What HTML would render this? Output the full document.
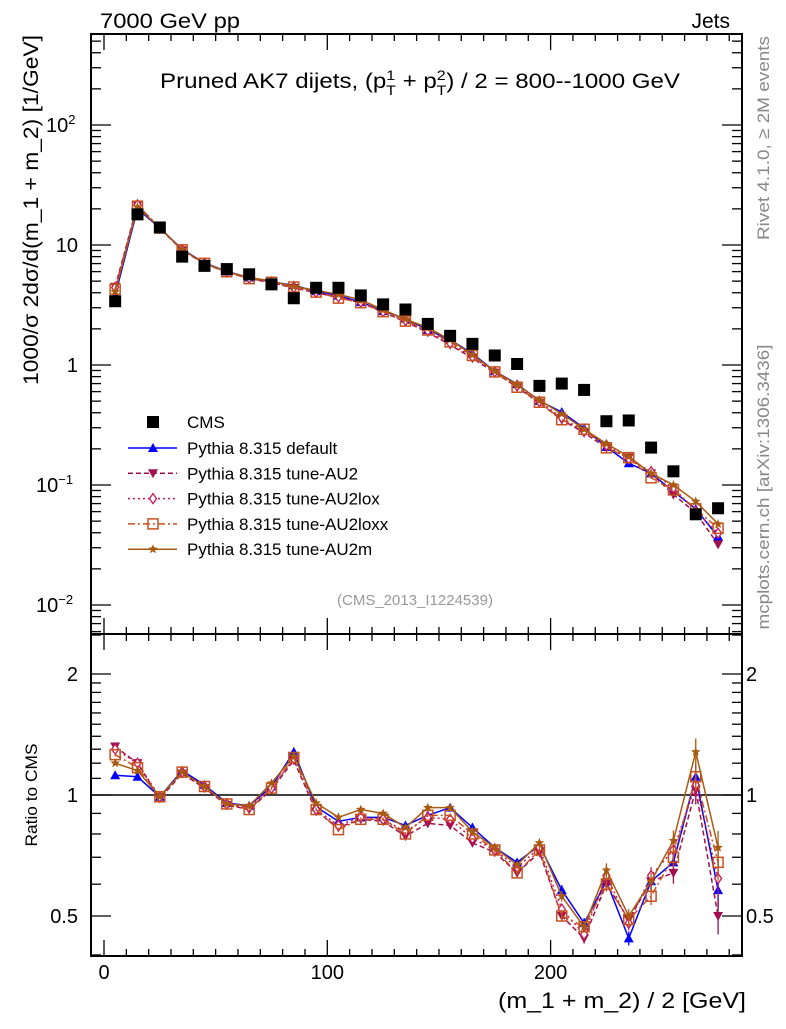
<!DOCTYPE html>
<html><head><meta charset="utf-8"><style>
body{margin:0;background:#fff;width:786px;height:1024px;overflow:hidden}
svg{font-family:"Liberation Sans",sans-serif}
</style></head><body>
<svg id="c" width="786" height="1024" viewBox="0 0 786 1024">
<g id="g"></g>
</svg>
<script>
const binCenters=[5,15,25,35,45,55,65,75,85,95,105,115,125,135,145,155,165,175,185,195,205,215,225,235,245,255,265,275];
const cmsValues=[3.4,18,14,8,6.7,6.3,5.7,4.7,3.6,4.4,4.4,3.8,3.2,2.9,2.2,1.75,1.5,1.2,1.02,0.67,0.70,0.62,0.34,0.345,0.205,0.13,0.057,0.064];
const ratioDefault=[1.12,1.11,0.99,1.15,1.06,0.955,0.94,1.05,1.28,0.935,0.86,0.88,0.88,0.84,0.89,0.93,0.83,0.74,0.68,0.75,0.58,0.48,0.61,0.44,0.61,0.68,1.11,0.58];
const ratioAU2=[1.32,1.2,0.98,1.13,1.04,0.945,0.92,1.03,1.22,0.91,0.83,0.87,0.86,0.79,0.85,0.84,0.76,0.72,0.64,0.72,0.5,0.44,0.6,0.49,0.61,0.64,1.03,0.5];
const ratioAU2lox=[1.3,1.2,0.99,1.14,1.05,0.95,0.93,1.04,1.23,0.92,0.84,0.88,0.87,0.81,0.88,0.87,0.78,0.73,0.66,0.74,0.52,0.45,0.63,0.48,0.63,0.73,1.06,0.62];
const ratioAU2loxx=[1.26,1.17,0.99,1.14,1.05,0.95,0.92,1.04,1.24,0.92,0.82,0.87,0.87,0.8,0.89,0.89,0.8,0.73,0.64,0.73,0.5,0.47,0.6,0.49,0.56,0.7,1.11,0.68];
const ratioAU2m=[1.2,1.15,0.99,1.14,1.05,0.95,0.94,1.07,1.25,0.955,0.88,0.92,0.9,0.83,0.93,0.93,0.81,0.74,0.67,0.76,0.56,0.47,0.65,0.5,0.61,0.77,1.28,0.74];
const relErr=[0.01,0.01,0.01,0.01,0.01,0.01,0.01,0.01,0.01,0.01,0.01,0.01,0.01,0.01,0.01,0.01,0.01,0.015,0.015,0.02,0.03,0.03,0.04,0.04,0.05,0.06,0.08,0.1];
const xTicks=[0,100,200];
const NS="http://www.w3.org/2000/svg";
const g=document.getElementById('g');
const L=91,R=742,T=34,MB=634,RB=956;
const X=v=>104+(v)*2.233;
const Ym=v=>365-120*Math.log10(v);
const Yr=v=>795-121*Math.log2(v);
function el(t,a,p){const e=document.createElementNS(NS,t);for(const k in a)e.setAttribute(k,a[k]);(p||g).appendChild(e);return e;}
function txt(s,x,y,sz,anc,fill,extra){const e=el('text',Object.assign({x:x,y:y,'font-size':sz,'text-anchor':anc||'start',fill:fill||'#000'},extra||{}));e.innerHTML=s;return e;}
function fit(e,len){e.setAttribute('textLength',len);e.setAttribute('lengthAdjust','spacingAndGlyphs');}
let f1=el('rect',{x:L,y:T,width:R-L,height:MB-T,fill:'none',stroke:'#000','stroke-width':2});

let f2=el('rect',{x:L,y:MB,width:R-L,height:RB-MB,fill:'none',stroke:'#000','stroke-width':2});

for(let v=0;v<=280;v+=10){const maj=v%100===0;const len=maj?16:7;const x=X(v);
 [[T,1],[MB,-1],[MB,1],[RB,-1]].forEach(([y,d])=>{el('line',{x1:x,x2:x,y1:y,y2:y+d*len,stroke:'#000','stroke-width':1.3});});}
xTicks.forEach(v=>{const t=txt(v,X(v),979,20,'middle');});
for(let d=-3;d<=2;d++){for(let m=1;m<10;m++){const v=m*Math.pow(10,d);const y=Ym(v);if(y<T||y>MB)continue;const len=m===1?20:10;
 el('line',{x1:L,x2:L+len,y1:y,y2:y,stroke:'#000','stroke-width':1.3});el('line',{x1:R,x2:R-len,y1:y,y2:y,stroke:'#000','stroke-width':1.3});}}
const yLabs=[[100,'10<tspan font-size="13" dy="-8">2</tspan>'],[10,'10'],[1,'1'],[0.1,'10<tspan font-size="13" dy="-8">−1</tspan>'],[0.01,'10<tspan font-size="13" dy="-8">−2</tspan>']];
yLabs.forEach(([v,s])=>{const t=txt(s,v>=10&&v<50?78:(v===1?78:62),Ym(v)+7,20,v===100||v<0.5?'start':'end');if(v===100||v<0.5){t.setAttribute('x',v===100?46:36);}});
[0.4,0.5,0.6,0.7,0.8,0.9,1,1.1,1.2,1.3,1.4,1.5,1.6,1.7,1.8,1.9,2,2.5].forEach(v=>{const y=Yr(v);if(y<MB||y>RB)return;const len=(v===0.5||v===1||v===2)?20:10;
 el('line',{x1:L,x2:L+len,y1:y,y2:y,stroke:'#000','stroke-width':1.3});el('line',{x1:R,x2:R-len,y1:y,y2:y,stroke:'#000','stroke-width':1.3});});
[[2,'2'],[1,'1'],[0.5,'0.5']].forEach(([v,s])=>{let t=txt(s,78,Yr(v)+7,20,'end');
 t=txt(s,746,Yr(v)+7,20,'start');});
let ref=el('line',{x1:L,x2:R,y1:Yr(1),y2:Yr(1),stroke:'#000','stroke-width':1.5});

const series=[
 {name:'Pythia 8.315 default',r:ratioDefault,c:'#0000ff',dash:'',m:'tri'},
 {name:'Pythia 8.315 tune-AU2',r:ratioAU2,c:'#a0104e',dash:'5,3',m:'dtri'},
 {name:'Pythia 8.315 tune-AU2lox',r:ratioAU2lox,c:'#c8185a',dash:'2,3',m:'dia'},
 {name:'Pythia 8.315 tune-AU2loxx',r:ratioAU2loxx,c:'#c8501e',dash:'7,3,2,3',m:'sq'},
 {name:'Pythia 8.315 tune-AU2m',r:ratioAU2m,c:'#a85a10',dash:'',m:'star'}];
function marker(type,x,y,c,parent){const s=5;let e;
 if(type==='tri')e=el('polygon',{points:`${x},${y-s} ${x-s},${y+s*0.8} ${x+s},${y+s*0.8}`,fill:c},parent);
 else if(type==='dtri')e=el('polygon',{points:`${x},${y+s} ${x-s},${y-s*0.8} ${x+s},${y-s*0.8}`,fill:c},parent);
 else if(type==='dia')e=el('polygon',{points:`${x},${y-s} ${x-s*0.7},${y} ${x},${y+s} ${x+s*0.7},${y}`,fill:'#fff',stroke:c,'stroke-width':1.3},parent);
 else if(type==='sq')e=el('rect',{x:x-5,y:y-5,width:10,height:10,fill:'none',stroke:c,'stroke-width':1.5},parent);
 else {let p=[];for(let i=0;i<10;i++){const a=-Math.PI/2+i*Math.PI/5;const rr=i%2?2.2:5;p.push((x+rr*Math.cos(a)).toFixed(1)+','+(y+rr*Math.sin(a)).toFixed(1));}
  e=el('polygon',{points:p.join(' '),fill:c},parent);}
 return e;}
series.forEach((s,si)=>{
 const gm=el('g',{});
 const gr=el('g',{});
 const ptsM=binCenters.map((x,i)=>[X(x),Ym(s.r[i]*cmsValues[i])]);
 const ptsR=binCenters.map((x,i)=>[X(x),Yr(s.r[i])]);
 const at={fill:'none',stroke:s.c,'stroke-width':1.5};if(s.dash)at['stroke-dasharray']=s.dash;
 el('polyline',Object.assign({points:ptsM.map(p=>p.join(',')).join(' ')},at),gm);
 el('polyline',Object.assign({points:ptsR.map(p=>p.join(',')).join(' ')},at),gr);
 binCenters.forEach((x,i)=>{const e=relErr[i];
  el('line',{x1:X(x),x2:X(x),y1:Yr(s.r[i]*(1+e)),y2:Yr(s.r[i]*(1-e)),stroke:s.c,'stroke-width':1.3},gr);
  marker(s.m,ptsM[i][0],ptsM[i][1],s.c,gm);marker(s.m,ptsR[i][0],ptsR[i][1],s.c,gr);});
 const ly=448+si*25.3;
 const lg=el('g',{});
 el('line',Object.assign({x1:128,x2:177,y1:ly,y2:ly},at),lg);marker(s.m,153,ly,s.c,lg);
 txt(s.name,187,ly+6,17,'start','#000');
});
const gc=el('g',{});
binCenters.forEach((x,i)=>{el('rect',{x:X(x)-6,y:Ym(cmsValues[i])-6,width:12,height:12,fill:'#000'},gc);});
const lc=el('g',{});
el('rect',{x:147,y:416,width:12,height:12,fill:'#000'},lc);txt('CMS',187,428,17,'start','#000',{});
let t;
t=txt('7000 GeV pp',100,28,21);fit(t,140);
t=txt('Jets',730,28,21,'end');
t=txt('Pruned AK7 dijets, (p<tspan font-size="14" dy="-8">1</tspan><tspan font-size="14" dx="-8" dy="15">T</tspan><tspan dy="-7"> + p</tspan><tspan font-size="14" dy="-8">2</tspan><tspan font-size="14" dx="-8" dy="15">T</tspan><tspan dy="-7">) / 2 = 800--1000 GeV</tspan>',160,88,21);
fit(t,520);
t=txt('(CMS_2013_I1224539)',415,605,15,'middle','#999');
t=txt('1000/σ    2dσ/d(m_1 + m_2) [1/GeV]',0,0,21,'middle','#000',{transform:'translate(38,210) rotate(-90)'});fit(t,350);
t=txt('Ratio to CMS',0,0,17,'middle','#000',{transform:'translate(37,795) rotate(-90)'});fit(t,103);
t=txt('(m_1 + m_2) / 2 [GeV]',746,1008,22,'end');fit(t,248);
t=txt('Rivet 4.1.0, ≥ 2M events',0,0,17,'middle','#888',{transform:'translate(769,138) rotate(-90)'});fit(t,204);
t=txt('mcplots.cern.ch [arXiv:1306.3436]',0,0,17,'middle','#888',{transform:'translate(769,487) rotate(-90)'});fit(t,285);
</script>
</body></html>
